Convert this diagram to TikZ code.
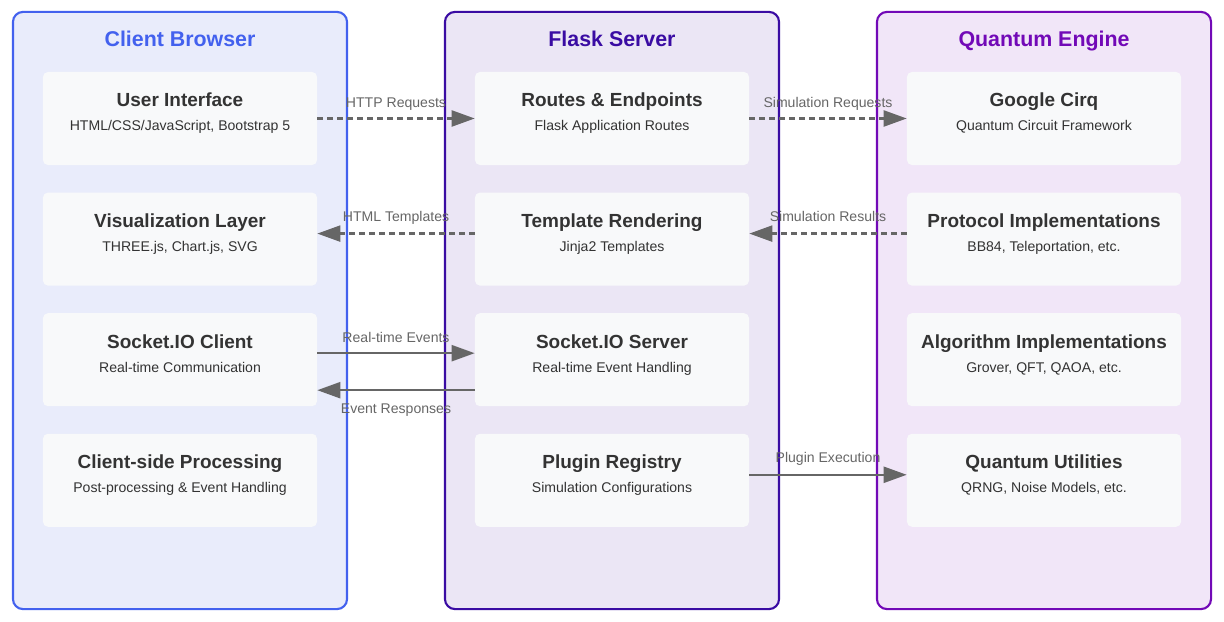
\documentclass[tikz,border=0pt]{standalone}
\usepackage{fontspec}
\setmainfont{Liberation Sans}
\usepackage{xcolor}
\usetikzlibrary{positioning}
\usetikzlibrary{arrows.meta}
\definecolor{cbline}{HTML}{4361EE}
\definecolor{cbfill}{HTML}{E9ECFB}
\definecolor{fsline}{HTML}{3A0CA3}
\definecolor{fsfill}{HTML}{EBE6F5}
\definecolor{qeline}{HTML}{7209B7}
\definecolor{qefill}{HTML}{F1E6F8}
\definecolor{itembg}{HTML}{F8F9FA}
\definecolor{ink}{HTML}{333333}
\definecolor{wire}{HTML}{666666}

\begin{document}
\begin{tikzpicture}
	[x=0.025cm,y=-0.025cm,node distance=0.675cm,
	layer/.style={draw,line width=1.5pt,rounded corners=0.25cm,minimum width=8.35cm,minimum height=14.925cm},
	item/.style={fill=itembg,rounded corners=0.125cm,minimum width=6.85cm,minimum height=2.325cm},
	ttl/.style={anchor=base,font=\bfseries\fontsize{15.2}{18}\selectfont},
	head/.style={anchor=base,text=ink,font=\bfseries\fontsize{13.5}{16}\selectfont},
	sub/.style={anchor=base,text=ink,font=\fontsize{10}{12}\selectfont},
	link/.style={draw=wire,line width=1.6pt,-{Triangle[length=0.575cm,width=0.4cm]}},
	dashlink/.style={link,dash pattern=on 0.14cm off 0.11cm},
	lbl/.style={midway,anchor=base,text=wire,font=\fontsize{10}{12}\selectfont}]
	\useasboundingbox (0,0) rectangle (1224,622);

	% the three tiers
	\node [layer,draw=cbline,fill=cbfill] (client) at (180,310.5) {};
	\node [layer,draw=fsline,fill=fsfill] (flask) at (612,310.5) {};
	\node [layer,draw=qeline,fill=qefill] (engine) at (1044,310.5) {};
	\node [ttl,text=cbline] (client-t) at (180,47) {Client Browser};
	\node [ttl,text=fsline] (flask-t) at (612,47) {Flask Server};
	\node [ttl,text=qeline] (engine-t) at (1044,47) {Quantum Engine};

	% client side
	\node [item] (ui) at (180,118.5) {};
	\node [item] (vis) [below=of ui] {};
	\node [item] (sioc) [below=of vis] {};
	\node [item] (csp) [below=of sioc] {};
	\node [head] (ui-h) at ([yshift=0.2875cm]ui.center) {User Interface};
	\node [sub] (ui-s) at ([yshift=-0.3125cm]ui.center) {HTML/CSS/JavaScript, Bootstrap 5};
	\node [head] (vis-h) at ([yshift=0.2875cm]vis.center) {Visualization Layer};
	\node [sub] (vis-s) at ([yshift=-0.3125cm]vis.center) {THREE.js, Chart.js, SVG};
	\node [head] (sioc-h) at ([yshift=0.2875cm]sioc.center) {Socket.IO Client};
	\node [sub] (sioc-s) at ([yshift=-0.3125cm]sioc.center) {Real-time Communication};
	\node [head] (csp-h) at ([yshift=0.2875cm]csp.center) {Client-side Processing};
	\node [sub] (csp-s) at ([yshift=-0.3125cm]csp.center) {Post-processing \& Event Handling};

	% server
	\node [item] (routes) at (612,118.5) {};
	\node [item] (tpl) [below=of routes] {};
	\node [item] (sios) [below=of tpl] {};
	\node [item] (plug) [below=of sios] {};
	\node [head] (routes-h) at ([yshift=0.2875cm]routes.center) {Routes \& Endpoints};
	\node [sub] (routes-s) at ([yshift=-0.3125cm]routes.center) {Flask Application Routes};
	\node [head] (tpl-h) at ([yshift=0.2875cm]tpl.center) {Template Rendering};
	\node [sub] (tpl-s) at ([yshift=-0.3125cm]tpl.center) {Jinja2 Templates};
	\node [head] (sios-h) at ([yshift=0.2875cm]sios.center) {Socket.IO Server};
	\node [sub] (sios-s) at ([yshift=-0.3125cm]sios.center) {Real-time Event Handling};
	\node [head] (plug-h) at ([yshift=0.2875cm]plug.center) {Plugin Registry};
	\node [sub] (plug-s) at ([yshift=-0.3125cm]plug.center) {Simulation Configurations};

	% engine
	\node [item] (cirq) at (1044,118.5) {};
	\node [item] (proto) [below=of cirq] {};
	\node [item] (algo) [below=of proto] {};
	\node [item] (util) [below=of algo] {};
	\node [head] (cirq-h) at ([yshift=0.2875cm]cirq.center) {Google Cirq};
	\node [sub] (cirq-s) at ([yshift=-0.3125cm]cirq.center) {Quantum Circuit Framework};
	\node [head] (proto-h) at ([yshift=0.2875cm]proto.center) {Protocol Implementations};
	\node [sub] (proto-s) at ([yshift=-0.3125cm]proto.center) {BB84, Teleportation, etc.};
	\node [head] (algo-h) at ([yshift=0.2875cm]algo.center) {Algorithm Implementations};
	\node [sub] (algo-s) at ([yshift=-0.3125cm]algo.center) {Grover, QFT, QAOA, etc.};
	\node [head] (util-h) at ([yshift=0.2875cm]util.center) {Quantum Utilities};
	\node [sub] (util-s) at ([yshift=-0.3125cm]util.center) {QRNG, Noise Models, etc.};

	% connections
	\draw [dashlink] (ui) -- (routes) node [lbl,yshift=0.275cm] (http) {HTTP Requests};
	\draw [dashlink] ([yshift=0.1375cm]tpl.west) -- ([yshift=0.1375cm]vis.east) node [lbl,yshift=0.3cm] (tmpl) {HTML Templates};
	\draw [link] ([yshift=0.1625cm]sioc.east) -- ([yshift=0.1625cm]sios.west) node [lbl,yshift=0.275cm] (rte) {Real-time Events};
	\draw [link] ([yshift=-0.7625cm]sios.west) -- ([yshift=-0.7625cm]sioc.east) node [lbl,yshift=-0.575cm] (resp) {Event Responses};
	\draw [dashlink] (routes) -- (cirq) node [lbl,yshift=0.275cm] (simreq) {Simulation Requests};
	\draw [dashlink] ([yshift=0.1375cm]proto.west) -- ([yshift=0.1375cm]tpl.east) node [lbl,yshift=0.3cm] (simres) {Simulation Results};
	\draw [link] ([yshift=0.1375cm]plug.east) -- ([yshift=0.1375cm]util.west) node [lbl,yshift=0.3cm] (plugx) {Plugin Execution};
\end{tikzpicture}
\end{document}
